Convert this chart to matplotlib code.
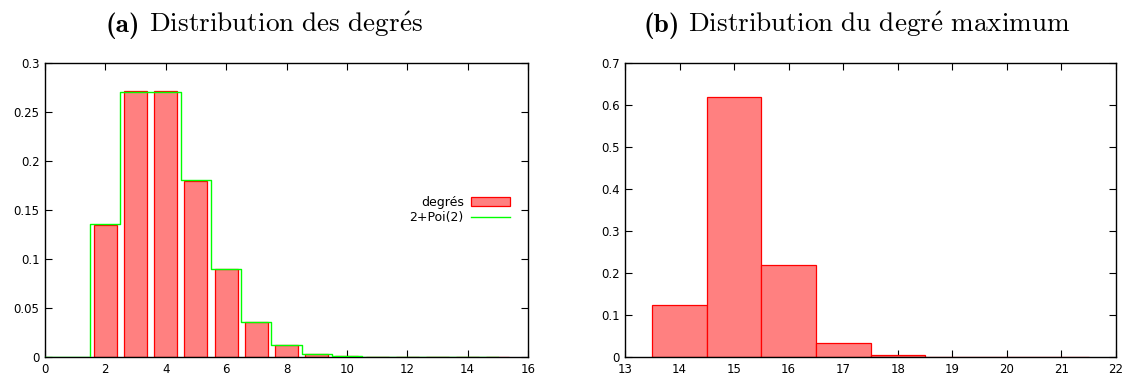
import matplotlib
matplotlib.use("Agg")
import matplotlib.pyplot as plt
import numpy as np

plt.rcParams['mathtext.fontset'] = 'cm'
plt.rcParams['font.family'] = 'DejaVu Sans'

# Panel (a): degree distribution
degrees = [2, 3, 4, 5, 6, 7, 8, 9, 10, 11, 12, 13, 14, 15]
deg_freq = [0.135, 0.271, 0.271, 0.180, 0.090, 0.036, 0.012, 0.003, 0.0007,
            0.0002, 0.0001, 0.00005, 0.00003, 0.00002]
poi_x = [0, 1, 2, 3, 4, 5, 6, 7, 8, 9, 10, 11, 12, 13, 14, 15]
poi_y = [0, 0, 0.1353, 0.2707, 0.2707, 0.1804, 0.0902, 0.0361, 0.0120,
         0.0034, 0.0009, 0.0002, 0.00004, 0.00001, 0.0, 0.0]

# Panel (b): max degree distribution
maxdeg = [14, 15, 16, 17, 18, 19, 20, 21]
max_freq = [0.125, 0.620, 0.220, 0.033, 0.005, 0.0008, 0.0004, 0.0003]

title_tags = ["(a)", "(b)"]
title_texts = [r"$\mathrm{Distribution\ des\ degr\acute{e}s}$",
               r"$\mathrm{Distribution\ du\ degr\acute{e}\ maximum}$"]
title_centers = [264, 857]

W, H = 1133, 380
fig = plt.figure(figsize=(W / 100, H / 100), dpi=100)

def ax_rect(x0, x1, y0, y1):
    return [x0 / W, 1 - y1 / H, (x1 - x0) / W, (y1 - y0) / H]

fill = '#ff8080'

def style(ax):
    ax.tick_params(direction='in', top=True, right=True, length=5, width=0.8,
                   labelsize=8.5, pad=4, colors='black')
    for s in ax.spines.values():
        s.set_linewidth(1.0)

# Left axes
ax1 = fig.add_axes(ax_rect(45, 528, 63, 357))
bars = ax1.bar(degrees, deg_freq, width=0.76, color=fill, edgecolor='red',
               linewidth=0.9, label='degrés', zorder=2)
line, = ax1.step(poi_x, poi_y, where='mid', color='#00ff00', linewidth=1.0,
                 label='2+Poi(2)', zorder=3)
ax1.set_xlim(0, 16)
ax1.set_ylim(0, 0.3)
ax1.set_xticks(np.arange(0, 17, 2))
ax1.set_yticks(np.arange(0, 0.31, 0.05))
ax1.set_yticklabels(['0', '0.05', '0.1', '0.15', '0.2', '0.25', '0.3'])
style(ax1)
leg = ax1.legend(handles=[bars, line], loc='center right',
                 bbox_to_anchor=(0.986, 0.5), frameon=False,
                 fontsize=9, markerfirst=False, handlelength=3.1,
                 handleheight=0.8, labelspacing=0.2, handletextpad=0.6)
for t in leg.get_texts():
    t.set_ha('right')

# Right axes
ax2 = fig.add_axes(ax_rect(625, 1116, 63, 357))
ax2.bar(maxdeg, max_freq, width=1.0, color=fill, edgecolor='red',
        linewidth=0.9, zorder=2)
ax2.set_xlim(13, 22)
ax2.set_ylim(0, 0.7)
ax2.set_xticks(np.arange(13, 23, 1))
ax2.set_yticks(np.arange(0, 0.71, 0.1))
ax2.set_yticklabels(['0', '0.1', '0.2', '0.3', '0.4', '0.5', '0.6', '0.7'])
style(ax2)

# Titles: bold tag + roman text, centred as a whole
fig.canvas.draw()
renderer = fig.canvas.get_renderer()
fs = 19.6
gap = 9
for tag, txt, cx in zip(title_tags, title_texts, title_centers):
    t1 = fig.text(0, 1 - 32 / H, tag, fontfamily='cmb10', fontsize=fs,
                  va='baseline', ha='left')
    t2 = fig.text(0, 1 - 32 / H, txt, fontsize=fs, va='baseline', ha='left')
    w1 = t1.get_window_extent(renderer).width
    w2 = t2.get_window_extent(renderer).width
    total = w1 + gap + w2
    x0 = cx - total / 2
    t1.set_x(x0 / W)
    t2.set_x((x0 + w1 + gap) / W)

fig.savefig('out.png', dpi=100, facecolor='white')
